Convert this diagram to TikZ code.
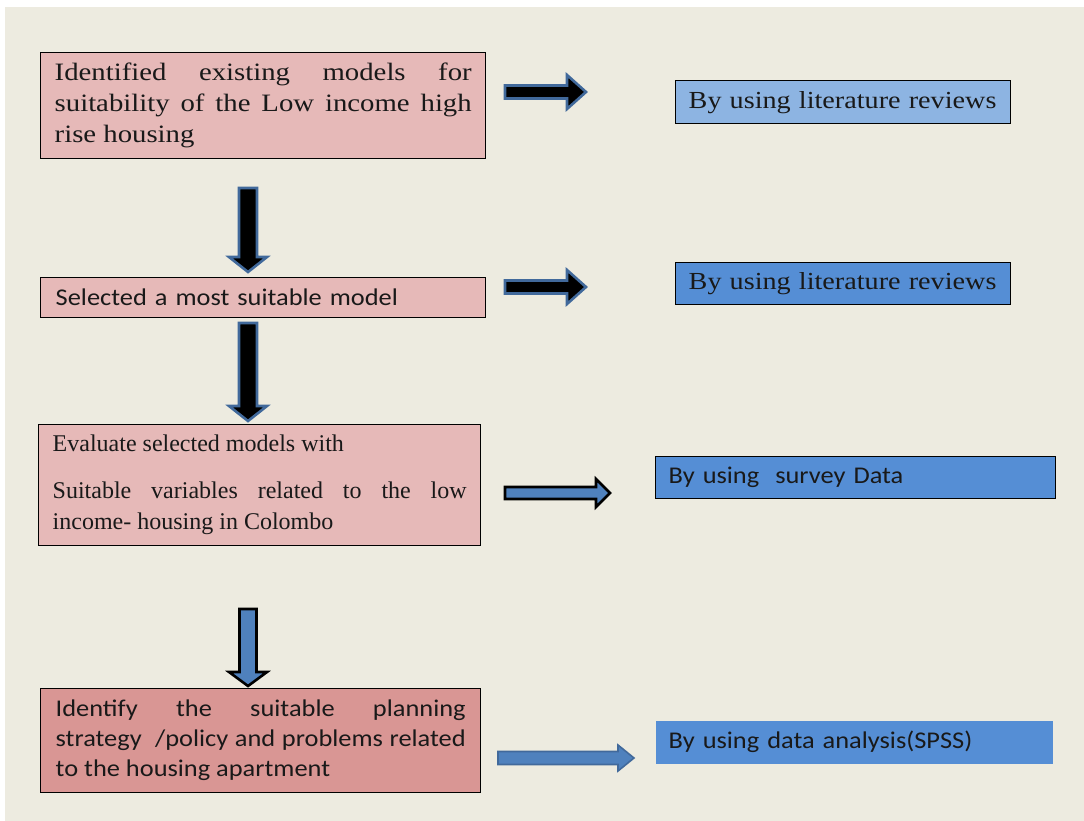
\documentclass[tikz,border=0pt]{standalone}
\usepackage{fontspec}
\setmainfont{Liberation Serif}
\newfontfamily\cambria[FakeStretch=1.15]{Liberation Serif}
\newfontfamily\calib[FakeStretch=1.1]{Carlito}
\usetikzlibrary{calc}
\definecolor{bgc}{HTML}{EDEBE0}
\definecolor{pinkA}{HTML}{E6B9B8}
\definecolor{pinkB}{HTML}{D99694}
\definecolor{blueA}{HTML}{8DB4E2}
\definecolor{blueB}{HTML}{558ED5}
\definecolor{arrblue}{HTML}{4F81BD}
\definecolor{glow}{HTML}{41699B}
\newcommand\blkarrH[6]{%
  \path[#1] ($(#2)+(0,-#4)$) -- ($(#3)+(-#6,-#4)$) -- ($(#3)+(-#6,-#5)$) -- (#3)
    -- ($(#3)+(-#6,#5)$) -- ($(#3)+(-#6,#4)$) -- ($(#2)+(0,#4)$) -- cycle;}
\newcommand\blkarrV[6]{%
  \path[#1] ($(#2)+(-#4,0)$) -- ($(#3)+(-#4,-#6)$) -- ($(#3)+(-#5,-#6)$) -- (#3)
    -- ($(#3)+(#5,-#6)$) -- ($(#3)+(#4,-#6)$) -- ($(#2)+(#4,0)$) -- cycle;}
\begin{document}
\begin{tikzpicture}[x=1pt,y=-1pt,
  boxbase/.style={rectangle, draw=black, line width=1.4pt, anchor=north west,
    inner ysep=0pt, text=black!90},
  pinkbox/.style={boxbase, fill=pinkA, align=justify},
  bluebox/.style={boxbase, align=left},
  darkarrow/.style={fill=black, draw=glow, line width=2.6pt, line join=miter},
  bluearrowK/.style={fill=arrblue, draw=black, line width=2.6pt, line join=miter},
  bluearrowB/.style={fill=arrblue, draw=glow, line width=1.6pt, line join=miter},
  serifA/.style={font=\cambria\fontsize{25}{31}\selectfont},
  serifB/.style={font=\fontsize{24}{31}\selectfont},
  sansA/.style={font=\calib\fontsize{24}{30}\selectfont}
]
\useasboundingbox (0,0) rectangle (1084,821);
\fill[white] (0,0) rectangle (1084,821);
\fill[bgc] (5,7) rectangle (1084,821);

% left column boxes
\node[pinkbox, serifA, minimum width=445pt, minimum height=106pt,
      inner xsep=14pt, text width=417pt] (b1) at (40,52)
  {Identified existing models for\linebreak suitability of the Low income high\linebreak rise housing};
\node[pinkbox, sansA, minimum width=445pt, minimum height=40pt,
      inner xsep=15pt, text width=415pt, align=left] (b2) at (40,277)
  {Selected a most suitable model};
\node[pinkbox, serifB, minimum width=442pt, minimum height=121pt,
      inner xsep=14pt, text width=414pt] (b3) at (38,424)
  {Evaluate selected models with\\[16pt]Suitable variables related to the low\linebreak income- housing in Colombo};
\node[pinkbox, fill=pinkB, sansA, minimum width=440pt, minimum height=104pt,
      inner xsep=15pt, text width=410pt] (b4) at (40,688)
  {Identify the suitable planning\linebreak strategy\ \ /policy and problems related\linebreak to the housing apartment};

% right column boxes
\node[bluebox, fill=blueA, font=\cambria\fontsize{24.5}{28}\selectfont,
      minimum width=335pt, minimum height=43pt, inner xsep=13pt, text width=309pt] (r1) at (675,80)
  {By using literature reviews};
\node[bluebox, fill=blueB, font=\cambria\fontsize{24.5}{28}\selectfont,
      minimum width=335pt, minimum height=42pt, inner xsep=13pt, text width=309pt] (r2) at (675,262)
  {By using literature reviews};
\node[bluebox, fill=blueB, sansA, minimum width=400pt, minimum height=42pt,
      inner xsep=13pt, text width=374pt] (r3) at (655,456)
  {By using\ \ survey Data};
\node[bluebox, draw=none, fill=blueB, sansA, minimum width=397pt, minimum height=43pt,
      inner xsep=13pt, text width=371pt] (r4) at (655,720)
  {By using data analysis(SPSS)};

% arrow end points
\coordinate (a1s) at (505,92);  \coordinate (a1e) at (586,92);
\coordinate (a2s) at (505,287); \coordinate (a2e) at (586,287);
\coordinate (a3s) at (505,493); \coordinate (a3e) at (610,493);
\coordinate (a4s) at (498,758); \coordinate (a4e) at (634,758);
\coordinate (d1s) at (248,188); \coordinate (d1e) at (248,272);
\coordinate (d2s) at (248,323); \coordinate (d2e) at (248,421);
\coordinate (d3s) at (248,609); \coordinate (d3e) at (248,686);

\blkarrH{darkarrow}{a1s}{a1e}{6.5}{17}{19}
\blkarrH{darkarrow}{a2s}{a2e}{6.5}{17}{19}
\blkarrH{bluearrowK}{a3s}{a3e}{6}{14}{14}
\blkarrH{bluearrowB}{a4s}{a4e}{6.5}{13}{16}
\blkarrV{darkarrow}{d1s}{d1e}{9}{19}{15}
\blkarrV{darkarrow}{d2s}{d2e}{9}{19}{15}
\blkarrV{bluearrowK}{d3s}{d3e}{8.5}{19}{14}
\end{tikzpicture}
\end{document}
